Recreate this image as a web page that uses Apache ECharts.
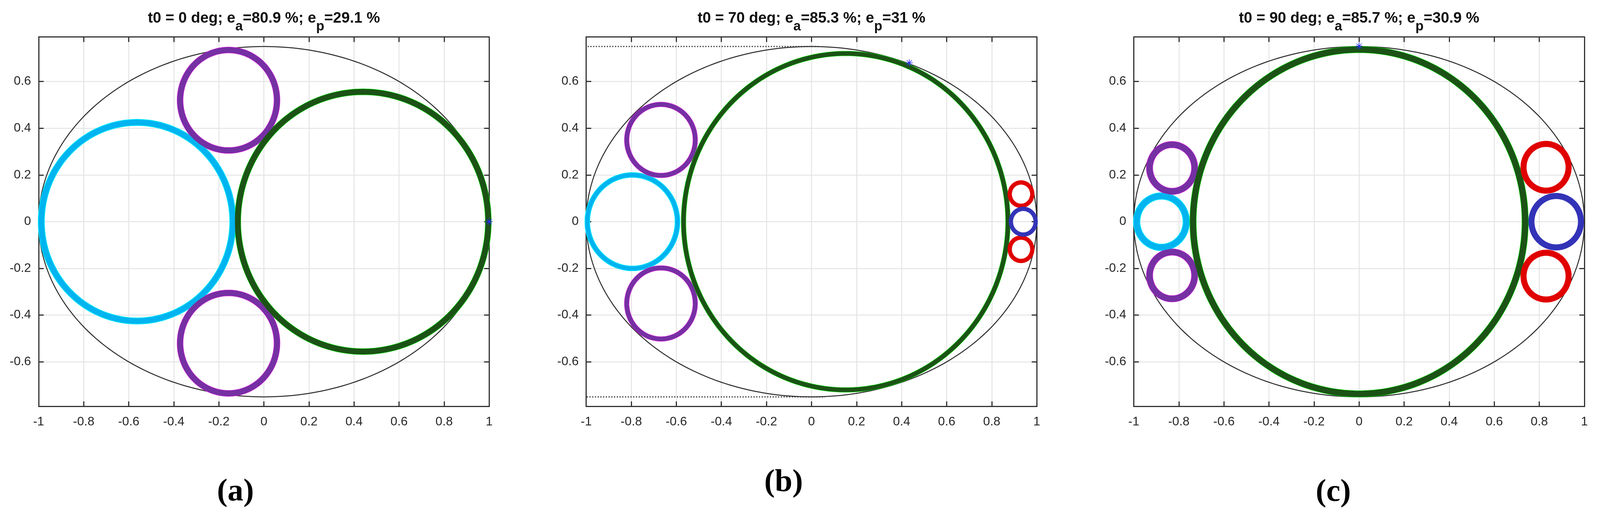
<!DOCTYPE html>
<html>
<head>
<meta charset="utf-8">
<script src="https://cdn.jsdelivr.net/npm/echarts@6/dist/echarts.min.js"></script>
<style>
html,body{margin:0;padding:0;background:#fff;overflow:hidden;}
#chart{width:100vw;height:100vh;}
</style>
</head>
<body>
<div id="chart"></div>
<script>
// ---------------- data ----------------
const panelLetters = ['a', 'b', 'c'];
const startAngles = [0, 70, 90];          // t0 (deg)
const effA = ['80.9', '85.3', '85.7'];     // e_a (%)
const effP = ['29.1', '31', '30.9'];       // e_p (%)
const xTicks = [-1, -0.8, -0.6, -0.4, -0.2, 0, 0.2, 0.4, 0.6, 0.8, 1];
const yTicks = [-0.6, -0.4, -0.2, 0, 0.2, 0.4, 0.6];

// housing ellipse per panel: [cx, cy, a, b]
const housing = [[0, 0, 1, 0.75], [0, 0, 1, 0.75], [0, 0, 1, 0.75]];
// rings per panel: [cx, cy, r]
const cyanRings = [
  [[-0.563, 0, 0.425]],
  [[-0.795, 0, 0.2]],
  [[-0.877, 0, 0.11]]
];
const purpleRings = [
  [[-0.157, 0.52, 0.215], [-0.157, -0.52, 0.215]],
  [[-0.668, 0.35, 0.152], [-0.668, -0.35, 0.152]],
  [[-0.83, 0.23, 0.1], [-0.83, -0.23, 0.1]]
];
const greenRings = [
  [[0.44, 0, 0.556]],
  [[0.152, 0, 0.72]],
  [[0, 0, 0.737]]
];
const redRings = [
  [],
  [[0.93, 0.118, 0.05], [0.93, -0.118, 0.05]],
  [[0.83, 0.233, 0.1], [0.83, -0.233, 0.1]]
];
const blueRings = [
  [],
  [[0.94, 0, 0.055]],
  [[0.875, 0, 0.11]]
];
// tangent dotted lines (panel b): [x1, x2, y]
const dottedLinesB = [[-1.03, 0.03, 0.75], [-1.01, 0.06, -0.75]];
// blue star markers per panel
const starMarks = [[1, 0], [0.434, 0.68], [0, 0.752]];

// ---------------- layout / style (reference space 4247 x 1326) ----------------
const REF_W = 4247, REF_H = 1326;
const SX = (window.innerWidth || REF_W) / REF_W;
const SY = (window.innerHeight || REF_H) / REF_H;
const gridLeft = [102.5, 1556, 3009.5];
const gridTop = 94.5, gridW = 1196, gridH = 946;
const yLim = 0.791;
const ringWidth = [14.5, 11, 15.5];
const labelCenterY = [1260, 1236, 1261];
const labelCenterX = [625, 2080, 3539];
const axisColor = '#333333';
const sansFont = "'Liberation Sans', Arial, Helvetica, sans-serif";
const serifFont = "'Liberation Serif', 'Times New Roman', serif";

const titleSize = 40 * SX;               // main title text
const subSize = 0.89 * titleSize;        // subscripts
const subLineHeight = 19 * SY + 0.17 * subSize + 0.83 * titleSize;
const titleTop = 61 * SY - 0.85 * titleSize;

const chart = echarts.init(document.getElementById('chart'), null, {renderer: 'canvas'});
const grids = [], xAxes = [], yAxes = [], series = [], titles = [];

function ellipseSeries(p, data, color, width, z) {
  return {
    type: 'custom', xAxisIndex: 2 * p, yAxisIndex: 2 * p, z: z, silent: true, clip: false,
    data: data,
    renderItem: function (params, api) {
      const cx = api.value(0), cy = api.value(1), rx = api.value(2), ry = api.value(3);
      const pts = [];
      const N = 240;
      for (let k = 0; k < N; k++) {
        const t = 2 * Math.PI * k / N;
        pts.push(api.coord([cx + rx * Math.cos(t), cy + ry * Math.sin(t)]));
      }
      return {type: 'polygon', shape: {points: pts}, style: {fill: 'none', stroke: color, lineWidth: width}};
    }
  };
}
const toEll = arr => arr.map(c => [c[0], c[1], c[2], c[2]]);
const tickFmt = v => String(Math.round(v * 10) / 10);

for (let p = 0; p < 3; p++) {
  grids.push({left: gridLeft[p] * SX, top: gridTop * SY, width: gridW * SX, height: gridH * SY,
    containLabel: false, outerBoundsMode: 'none'});
  xAxes.push({
    type: 'value', gridIndex: p, position: 'bottom', min: xTicks[0], max: xTicks[xTicks.length - 1], interval: 0.2,
    axisLine: {show: true, onZero: false, lineStyle: {color: axisColor, width: 3}},
    axisTick: {show: true, inside: true, length: 13, lineStyle: {color: axisColor, width: 3}},
    axisLabel: {show: true, margin: 24 * SY, color: '#262626', fontSize: 33 * SX, fontFamily: sansFont, formatter: tickFmt},
    splitLine: {show: true, lineStyle: {color: '#e4e4e4', width: 2.5}}
  });
  xAxes.push({
    type: 'value', gridIndex: p, position: 'top', min: xTicks[0], max: xTicks[xTicks.length - 1], interval: 0.2,
    axisLine: {show: true, onZero: false, lineStyle: {color: axisColor, width: 3}},
    axisTick: {show: true, inside: true, length: 13, lineStyle: {color: axisColor, width: 3}},
    axisLabel: {show: false}, splitLine: {show: false}
  });
  yAxes.push({
    type: 'value', gridIndex: p, position: 'left', min: -yLim, max: yLim,
    axisLine: {show: true, onZero: false, lineStyle: {color: axisColor, width: 3}},
    axisTick: {show: true, inside: true, length: 13, customValues: yTicks, lineStyle: {color: axisColor, width: 3}},
    axisLabel: {show: true, margin: 20 * SX, customValues: yTicks, color: '#262626', fontSize: 33 * SX,
      fontFamily: sansFont, formatter: tickFmt},
    splitLine: {show: true, lineStyle: {color: '#e4e4e4', width: 2.5}}
  });
  yAxes.push({
    type: 'value', gridIndex: p, position: 'right', min: -yLim, max: yLim,
    axisLine: {show: true, onZero: false, lineStyle: {color: axisColor, width: 3}},
    axisTick: {show: true, inside: true, length: 13, customValues: yTicks, lineStyle: {color: axisColor, width: 3}},
    axisLabel: {show: false, customValues: yTicks}, splitLine: {show: false}
  });

  series.push(ellipseSeries(p, [housing[p]], '#2b2b2b', 2.5, 2));
  const w = ringWidth[p];
  if (cyanRings[p].length) series.push(ellipseSeries(p, toEll(cyanRings[p]), '#00f0ff', w + 3, 3));
  if (purpleRings[p].length) series.push(ellipseSeries(p, toEll(purpleRings[p]), '#e020e0', w + 2, 3));
  if (greenRings[p].length) series.push(ellipseSeries(p, toEll(greenRings[p]), '#00e600', w + 2, 3));
  if (cyanRings[p].length) series.push(ellipseSeries(p, toEll(cyanRings[p]), '#00b4f0', w, 4));
  if (purpleRings[p].length) series.push(ellipseSeries(p, toEll(purpleRings[p]), '#7530a3', w, 4));
  if (greenRings[p].length) series.push(ellipseSeries(p, toEll(greenRings[p]), '#1c5216', w, 4));
  if (redRings[p].length) series.push(ellipseSeries(p, toEll(redRings[p]), '#e00000', w, 4));
  if (blueRings[p].length) series.push(ellipseSeries(p, toEll(blueRings[p]), '#3333b8', w, 4));

  series.push({
    type: 'custom', xAxisIndex: 2 * p, yAxisIndex: 2 * p, z: 5, silent: true, clip: false,
    data: [starMarks[p]],
    renderItem: function (params, api) {
      const c = api.coord([api.value(0), api.value(1)]);
      const s = 9, children = [];
      for (let k = 0; k < 4; k++) {
        const a = Math.PI * k / 4 + Math.PI / 2;
        children.push({type: 'line', shape: {x1: c[0] - s * Math.cos(a), y1: c[1] - s * Math.sin(a), x2: c[0] + s * Math.cos(a), y2: c[1] + s * Math.sin(a)},
          style: {stroke: '#2a2af5', lineWidth: 1.6}});
      }
      return {type: 'group', children: children};
    }
  });

  titles.push({
    text: '{m|t0 = ' + startAngles[p] + ' deg; e}{s|a}{m|=' + effA[p] + ' %; e}{s|p}{m|=' + effP[p] + ' %}',
    left: (gridLeft[p] + gridW / 2) * SX, top: titleTop, textAlign: 'center', padding: 0,
    textStyle: {
      fontFamily: sansFont, fontWeight: 'bold', color: '#111',
      rich: {
        m: {fontSize: titleSize, fontWeight: 'bold', color: '#111', lineHeight: titleSize, verticalAlign: 'top', fontFamily: sansFont},
        s: {fontSize: subSize, fontWeight: 'bold', color: '#111', lineHeight: subLineHeight, verticalAlign: 'bottom', fontFamily: sansFont}
      }
    }
  });
  titles.push({
    text: '{p|(}{b|' + panelLetters[p] + '}{p|)}',
    left: labelCenterX[p] * SX, top: (labelCenterY[p] - 45) * SY, textAlign: 'center', padding: 0,
    textStyle: {
      rich: {
        p: {fontSize: 84 * SX, fontFamily: serifFont, color: '#000', lineHeight: 90},
        b: {fontSize: 84 * SX, fontFamily: serifFont, fontWeight: 'bold', color: '#000', lineHeight: 90}
      }
    }
  });
}

dottedLinesB.forEach(function (d) {
  series.push({
    type: 'line', xAxisIndex: 2, yAxisIndex: 2, z: 2, silent: true, clip: false, symbol: 'none',
    data: [[d[0], d[2]], [d[1], d[2]]],
    lineStyle: {color: '#333', width: 3, type: [3, 4]}
  });
});

chart.setOption({
  backgroundColor: '#ffffff',
  animation: false,
  title: titles,
  grid: grids,
  xAxis: xAxes,
  yAxis: yAxes,
  series: series
});
</script>
</body>
</html>
